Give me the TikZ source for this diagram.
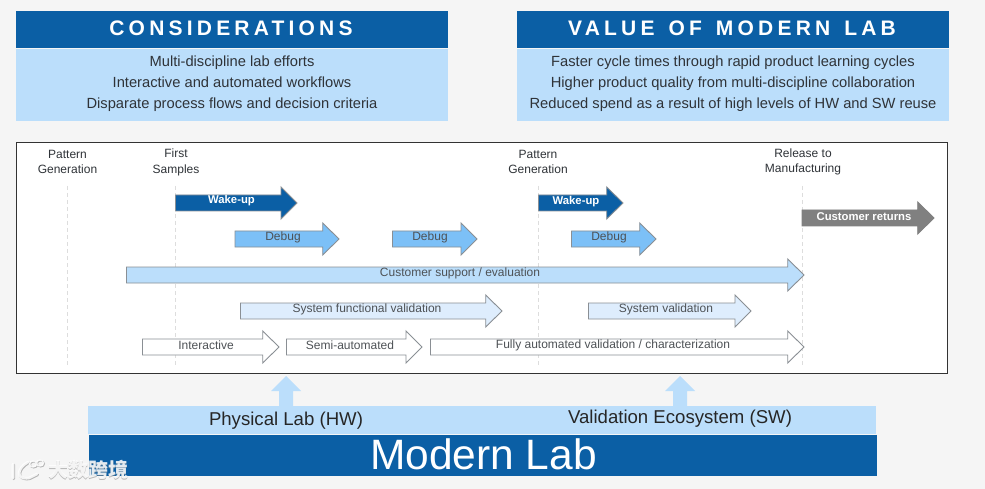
\documentclass[tikz,border=0pt]{standalone}
\usepackage{fontspec}
\setmainfont{Liberation Sans}
\newfontfamily\cjkwm{Noto Sans CJK SC}
\definecolor{pagebg}{HTML}{F5F5F5}
\definecolor{navy}{HTML}{0B5FA5}
\definecolor{pale}{HTML}{BBDEFB}
\definecolor{midblue}{HTML}{7CC0F7}
\definecolor{paler}{HTML}{DEEDFD}
\definecolor{inkc}{HTML}{2F3338}
\definecolor{edgec}{HTML}{8A8F94}
\definecolor{dashc}{HTML}{DDDDDD}
\definecolor{retc}{HTML}{808080}
\tikzset{
  header/.style={text=white,font=\fontsize{21}{24}\selectfont\bfseries\addfontfeature{LetterSpace=20}},
  bodytxt/.style={text=inkc,font=\fontsize{14.7}{21}\selectfont,align=center},
  mile/.style={text=inkc,font=\fontsize{12}{15.5}\selectfont,align=center},
  arrowlab/.style={text=inkc!85!white,font=\fontsize{12}{14}\selectfont},
  arrowlabw/.style={text=white,font=\fontsize{11.3}{14}\selectfont\bfseries},
  blockedge/.style={draw=edgec,line width=0.9pt},
  guide/.style={draw=dashc,line width=0.8pt,dash pattern=on 4pt off 3pt},
  lablarge/.style={text=black!85,font=\fontsize{18.6}{22}\selectfont},
}
% #1 left x, #2 head start x, #3 tip x, #4 centre y, #5 fill
\newcommand{\blockarrow}[5]{%
  \path[blockedge,fill=#5] (#1,#4-8) -- (#2,#4-8) -- (#2,#4-16) -- (#3,#4) -- (#2,#4+16) -- (#2,#4+8) -- (#1,#4+8) -- cycle;}
\begin{document}
\begin{tikzpicture}[x=1pt,y=-1pt]
\useasboundingbox (0,0) rectangle (985,489);
\fill[pagebg] (0,0) rectangle (985,489);
% top panels
\fill[navy] (16,11) rectangle (448,48);
\fill[pale] (16,49) rectangle (448,121);
\node[header] (h1) at (231,28.5) {CONSIDERATIONS};
\node[bodytxt] (b1) at (232,84) {Multi-discipline lab efforts\\Interactive and automated workflows\\Disparate process flows and decision criteria};
\fill[navy] (517,11) rectangle (949,48);
\fill[pale] (517,49) rectangle (949,121);
\node[header] (h2) at (732,28.5) {VALUE\hspace{4pt} OF\hspace{4pt} MODERN\hspace{4pt} LAB};
\node[bodytxt] (b2) at (733,84) {Faster cycle times through rapid product learning cycles\\Higher product quality from multi-discipline collaboration\\Reduced spend as a result of high levels of HW and SW reuse};
% frame
\draw[draw=black!80,fill=white,line width=1pt] (16.5,142.5) rectangle (947.5,373.5);
% guides
\coordinate (g1a) at (67.5,186); \coordinate (g1b) at (67.5,366);
\coordinate (g2a) at (175.5,186); \coordinate (g2b) at (175.5,366);
\coordinate (g3a) at (538.5,186); \coordinate (g3b) at (538.5,366);
\coordinate (g4a) at (802.5,186); \coordinate (g4b) at (802.5,366);
\draw[guide] (g1a) -- (g1b);
\draw[guide] (g2a) -- (g2b);
\draw[guide] (g3a) -- (g3b);
\draw[guide] (g4a) -- (g4b);
% milestones
\node[mile] (m1) at (67.5,162) {Pattern\\Generation};
\node[mile] (m2) at (176,162.5) {First\\Samples};
\node[mile] (m3) at (538,162) {Pattern\\Generation};
\node[mile] (m4) at (803,162) {Release to\\Manufacturing};
% block arrows
\blockarrow{175.5}{281}{297}{203}{navy}
\node[arrowlabw] (w1) at (231.5,201) {Wake-up};
\blockarrow{538.5}{606.7}{623}{203}{navy}
\node[arrowlabw] (w2) at (576,202) {Wake-up};
\blockarrow{235}{322.7}{339}{239}{midblue}
\node[arrowlab] (d1) at (283,237.5) {Debug};
\blockarrow{392.5}{461}{477}{239}{midblue}
\node[arrowlab] (d2) at (430,237.5) {Debug};
\blockarrow{571.5}{639.7}{656}{239}{midblue}
\node[arrowlab] (d3) at (609,237.5) {Debug};
\blockarrow{126.5}{787.7}{804}{275}{pale}
\node[arrowlab] (cs) at (460,273.5) {Customer support / evaluation};
\blockarrow{240.5}{485.7}{502}{311}{paler}
\node[arrowlab] (sf) at (367,309.5) {System functional validation};
\blockarrow{588.5}{735}{751}{311}{paler}
\node[arrowlab] (sv) at (666,309.5) {System validation};
\blockarrow{142.5}{262.7}{279}{347}{white}
\node[arrowlab] (i1) at (206,345.5) {Interactive};
\blockarrow{286.5}{406}{422}{347}{white}
\node[arrowlab] (i2) at (350,345.5) {Semi-automated};
\blockarrow{430.5}{787.7}{804}{347}{white}
\node[arrowlab] (i3) at (613,345.5) {Fully automated validation / characterization};
\path[draw=retc,fill=retc,line width=0.9pt] (802,210) -- (917.7,210) -- (917.7,202) -- (934,218) -- (917.7,234) -- (917.7,226) -- (802,226) -- cycle;
\node[arrowlabw] (cr) at (864,217) {Customer returns};
% up arrows
\fill[pale] (279,406) -- (279,391) -- (271,391) -- (286,376) -- (301,391) -- (293,391) -- (293,406) -- cycle;
\fill[pale] (673,406) -- (673,391) -- (665,391) -- (680,376) -- (695,391) -- (687,391) -- (687,406) -- cycle;
% bottom
\fill[pale] (88,406) rectangle (876,434);
\fill[navy] (89,435) rectangle (877,476);
\node[lablarge] (pl) at (286,421) {Physical Lab (HW)};
\node[lablarge] (vl) at (680,419) {Validation Ecosystem (SW)};
\node[text=white,font=\fontsize{42.5}{46}\selectfont] (ml) at (483.5,454) {Modern Lab};
% watermark
\begin{scope}[shift={(0.8,0.8)}]
\node[text=black!45,font=\fontsize{20}{22}\selectfont\cjkwm\bfseries,opacity=0.6] (wms) at (88,470) {大数跨境};
\draw[black!45,line width=2.6pt,opacity=0.6,line cap=round] (13,464) -- (13,478) (28,462) .. controls (17,468) and (15,480) .. (29,478) (29,478) -- (37,474);
\draw[black!45,line width=1.4pt,opacity=0.6] (33,464) ellipse (3.5 and 3) (40,463) ellipse (3.5 and 3);
\end{scope}
\node[text=white,font=\fontsize{20}{22}\selectfont\cjkwm\bfseries,opacity=0.85] (wm) at (88,470) {大数跨境};
\draw[white,line width=2.6pt,opacity=0.85,line cap=round] (13,464) -- (13,478) (28,462) .. controls (17,468) and (15,480) .. (29,478) (29,478) -- (37,474);
\draw[white,line width=1.4pt,opacity=0.85] (33,464) ellipse (3.5 and 3) (40,463) ellipse (3.5 and 3);
\end{tikzpicture}
\end{document}
